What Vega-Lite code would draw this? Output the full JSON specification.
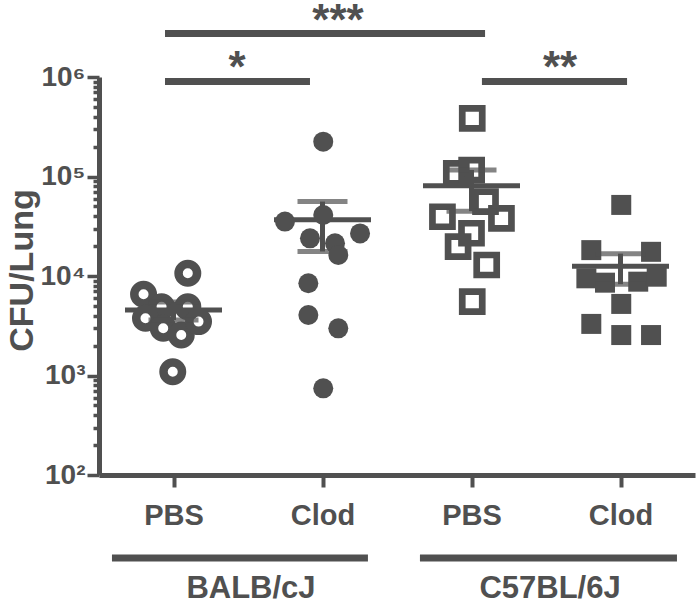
{
  "$schema": "https://vega.github.io/schema/vega-lite/v6.json",
  "width": 596,
  "height": 398,
  "autosize": {"type": "none"},
  "padding": {"left": 99, "top": 77, "right": 5, "bottom": 129},
  "background": "white",
  "config": {"view": {"stroke": null}, "font": "Liberation Sans"},
  "datasets": {
    "cfu": [
      {"strain": "BALB/cJ", "trt": "PBS", "grp": 1, "xpos": 1.096, "cfu": 10640},
      {"strain": "BALB/cJ", "trt": "PBS", "grp": 1, "xpos": 0.799, "cfu": 6550},
      {"strain": "BALB/cJ", "trt": "PBS", "grp": 1, "xpos": 0.920, "cfu": 4910},
      {"strain": "BALB/cJ", "trt": "PBS", "grp": 1, "xpos": 1.096, "cfu": 4910},
      {"strain": "BALB/cJ", "trt": "PBS", "grp": 1, "xpos": 0.812, "cfu": 3760},
      {"strain": "BALB/cJ", "trt": "PBS", "grp": 1, "xpos": 0.931, "cfu": 2980},
      {"strain": "BALB/cJ", "trt": "PBS", "grp": 1, "xpos": 1.052, "cfu": 2550},
      {"strain": "BALB/cJ", "trt": "PBS", "grp": 1, "xpos": 1.168, "cfu": 3480},
      {"strain": "BALB/cJ", "trt": "PBS", "grp": 1, "xpos": 0.995, "cfu": 1090},
      {"strain": "BALB/cJ", "trt": "Clod", "grp": 2, "xpos": 2.005, "cfu": 224000},
      {"strain": "BALB/cJ", "trt": "Clod", "grp": 2, "xpos": 1.748, "cfu": 35200},
      {"strain": "BALB/cJ", "trt": "Clod", "grp": 2, "xpos": 2.005, "cfu": 41000},
      {"strain": "BALB/cJ", "trt": "Clod", "grp": 2, "xpos": 2.252, "cfu": 26800},
      {"strain": "BALB/cJ", "trt": "Clod", "grp": 2, "xpos": 1.916, "cfu": 23900},
      {"strain": "BALB/cJ", "trt": "Clod", "grp": 2, "xpos": 2.084, "cfu": 21300},
      {"strain": "BALB/cJ", "trt": "Clod", "grp": 2, "xpos": 2.106, "cfu": 16260},
      {"strain": "BALB/cJ", "trt": "Clod", "grp": 2, "xpos": 1.905, "cfu": 8450},
      {"strain": "BALB/cJ", "trt": "Clod", "grp": 2, "xpos": 1.905, "cfu": 4060},
      {"strain": "BALB/cJ", "trt": "Clod", "grp": 2, "xpos": 2.106, "cfu": 2980},
      {"strain": "BALB/cJ", "trt": "Clod", "grp": 2, "xpos": 2.005, "cfu": 743},
      {"strain": "C57BL/6J", "trt": "PBS", "grp": 3, "xpos": 3.005, "cfu": 384000},
      {"strain": "C57BL/6J", "trt": "PBS", "grp": 3, "xpos": 2.898, "cfu": 107700},
      {"strain": "C57BL/6J", "trt": "PBS", "grp": 3, "xpos": 3.001, "cfu": 116000},
      {"strain": "C57BL/6J", "trt": "PBS", "grp": 3, "xpos": 3.094, "cfu": 55800},
      {"strain": "C57BL/6J", "trt": "PBS", "grp": 3, "xpos": 2.805, "cfu": 39400},
      {"strain": "C57BL/6J", "trt": "PBS", "grp": 3, "xpos": 3.201, "cfu": 38000},
      {"strain": "C57BL/6J", "trt": "PBS", "grp": 3, "xpos": 3.000, "cfu": 26900},
      {"strain": "C57BL/6J", "trt": "PBS", "grp": 3, "xpos": 2.910, "cfu": 19700},
      {"strain": "C57BL/6J", "trt": "PBS", "grp": 3, "xpos": 3.102, "cfu": 12900},
      {"strain": "C57BL/6J", "trt": "PBS", "grp": 3, "xpos": 3.005, "cfu": 5520},
      {"strain": "C57BL/6J", "trt": "Clod", "grp": 4, "xpos": 4.005, "cfu": 51800},
      {"strain": "C57BL/6J", "trt": "Clod", "grp": 4, "xpos": 3.804, "cfu": 18200},
      {"strain": "C57BL/6J", "trt": "Clod", "grp": 4, "xpos": 4.205, "cfu": 17500},
      {"strain": "C57BL/6J", "trt": "Clod", "grp": 4, "xpos": 3.771, "cfu": 9480},
      {"strain": "C57BL/6J", "trt": "Clod", "grp": 4, "xpos": 3.896, "cfu": 8570},
      {"strain": "C57BL/6J", "trt": "Clod", "grp": 4, "xpos": 4.119, "cfu": 8770},
      {"strain": "C57BL/6J", "trt": "Clod", "grp": 4, "xpos": 4.243, "cfu": 9840},
      {"strain": "C57BL/6J", "trt": "Clod", "grp": 4, "xpos": 4.005, "cfu": 5240},
      {"strain": "C57BL/6J", "trt": "Clod", "grp": 4, "xpos": 3.804, "cfu": 3300},
      {"strain": "C57BL/6J", "trt": "Clod", "grp": 4, "xpos": 4.005, "cfu": 2550},
      {"strain": "C57BL/6J", "trt": "Clod", "grp": 4, "xpos": 4.205, "cfu": 2550}
    ],
    "sig": [
      {"x1": 0.943, "x2": 3.091, "xc": 2.104, "stars": "***", "tier": "top"},
      {"x1": 0.943, "x2": 1.916, "xc": 1.426, "stars": "*", "tier": "low"},
      {"x1": 3.070, "x2": 4.044, "xc": 3.594, "stars": "**", "tier": "low"}
    ],
    "strains": [
      {"strain": "BALB/cJ", "x1": 0.587, "x2": 2.305, "xc": 1.52},
      {"strain": "C57BL/6J", "x1": 2.654, "x2": 4.379, "xc": 3.527}
    ]
  },
  "layer": [
    {
      "data": {"name": "cfu"},
      "transform": [{"filter": "datum.grp == 1"}],
      "mark": {"type": "point", "shape": "circle", "filled": false, "size": 342, "strokeWidth": 8.5, "color": "#505050", "opacity": 1},
      "encoding": {
        "x": {"field": "xpos", "type": "quantitative", "scale": {"domain": [0.5, 4.5], "nice": false, "zero": false},
          "axis": {"values": [1, 2, 3, 4], "labelExpr": "datum.value % 2 == 1 ? 'PBS' : 'Clod'", "title": null, "grid": false,
            "tickSize": 12, "tickWidth": 4, "tickColor": "#505050", "domainWidth": 5, "domainColor": "#505050",
            "labelFont": "Liberation Sans", "labelFontSize": 29, "labelFontWeight": "bold", "labelColor": "#505050", "labelPadding": 14, "labelFlush": false, "labelOverlap": false}},
        "y": {"field": "cfu", "type": "quantitative", "title": "CFU/Lung", "scale": {"type": "log", "domain": [100, 1000000], "nice": false},
          "axis": {"values": [100,200,300,400,500,600,700,800,900,1000,2000,3000,4000,5000,6000,7000,8000,9000,10000,20000,30000,40000,50000,60000,70000,80000,90000,100000,200000,300000,400000,500000,600000,700000,800000,900000,1000000],
            "labelExpr": "datum.value == 100 ? '10²' : datum.value == 1000 ? '10³' : datum.value == 10000 ? '10⁴' : datum.value == 100000 ? '10⁵' : datum.value == 1000000 ? '10⁶' : ''",
            "tickSize": {"condition": {"test": "indexof([100,1000,10000,100000,1000000], datum.value) >= 0", "value": 12}, "value": 6},
            "tickWidth": 3.5, "tickColor": "#505050", "domainWidth": 5, "domainColor": "#505050", "grid": false,
            "labelFont": "Liberation Sans", "labelFontSize": 28, "labelFontWeight": "bold", "labelColor": "#505050", "labelPadding": 2, "labelFlush": false, "labelOverlap": false,
            "title": "CFU/Lung", "titleFont": "Liberation Sans", "titleFontSize": 34, "titleFontWeight": "bold", "titleColor": "#505050",
            "titleX": -67, "titleY": 193, "titleAngle": -90, "titleAlign": "center", "titleBaseline": "alphabetic"}}
      }
    },
    {
      "data": {"name": "cfu"},
      "transform": [{"filter": "datum.grp == 2"}],
      "mark": {"type": "point", "shape": "circle", "filled": true, "size": 400, "color": "#505050", "opacity": 1},
      "encoding": {
        "x": {"field": "xpos", "type": "quantitative", "title": null},
        "y": {"field": "cfu", "type": "quantitative", "title": "CFU/Lung"}
      }
    },
    {
      "data": {"name": "cfu"},
      "transform": [{"filter": "datum.grp == 3"}],
      "mark": {"type": "point", "shape": "square", "filled": false, "size": 400, "strokeWidth": 6.7, "color": "#505050", "opacity": 1},
      "encoding": {
        "x": {"field": "xpos", "type": "quantitative", "title": null},
        "y": {"field": "cfu", "type": "quantitative", "title": "CFU/Lung"}
      }
    },
    {
      "data": {"name": "cfu"},
      "transform": [{"filter": "datum.grp == 4"}],
      "mark": {"type": "point", "shape": "square", "filled": true, "size": 400, "color": "#505050", "opacity": 1},
      "encoding": {
        "x": {"field": "xpos", "type": "quantitative", "title": null},
        "y": {"field": "cfu", "type": "quantitative", "title": "CFU/Lung"}
      }
    },
    {
      "data": {"name": "cfu"},
      "mark": {"type": "errorbar", "extent": "stderr", "orient": "vertical", "ticks": true, "size": 50, "thickness": 5, "color": "#505050"},
      "encoding": {
        "x": {"field": "grp", "type": "quantitative", "title": null},
        "y": {"field": "cfu", "type": "quantitative", "title": "CFU/Lung"}
      }
    },
    {
      "data": {"name": "cfu"},
      "mark": {"type": "tick", "orient": "horizontal", "size": 97, "thickness": 5, "color": "#505050", "opacity": 1},
      "encoding": {
        "x": {"field": "grp", "type": "quantitative", "title": null},
        "y": {"aggregate": "mean", "field": "cfu", "type": "quantitative", "title": "CFU/Lung"}
      }
    },
    {
      "data": {"name": "sig"},
      "transform": [{"filter": "datum.tier == 'top'"}],
      "mark": {"type": "rule", "strokeWidth": 7, "color": "#505050", "strokeCap": "butt"},
      "encoding": {
        "x": {"field": "x1", "type": "quantitative", "title": null},
        "x2": {"field": "x2"},
        "y": {"datum": 2735000, "type": "quantitative", "title": "CFU/Lung"}
      }
    },
    {
      "data": {"name": "sig"},
      "transform": [{"filter": "datum.tier == 'low'"}],
      "mark": {"type": "rule", "strokeWidth": 7, "color": "#505050", "strokeCap": "butt"},
      "encoding": {
        "x": {"field": "x1", "type": "quantitative", "title": null},
        "x2": {"field": "x2"},
        "y": {"datum": 901000, "type": "quantitative", "title": "CFU/Lung"}
      }
    },
    {
      "data": {"name": "sig"},
      "transform": [{"filter": "datum.tier == 'top'"}],
      "mark": {"type": "text", "font": "Liberation Sans", "fontSize": 44, "fontWeight": "bold", "color": "#505050", "align": "center", "baseline": "alphabetic", "dy": 1},
      "encoding": {
        "x": {"field": "xc", "type": "quantitative", "title": null},
        "y": {"datum": 2735000, "type": "quantitative", "title": "CFU/Lung"},
        "text": {"field": "stars"}
      }
    },
    {
      "data": {"name": "sig"},
      "transform": [{"filter": "datum.tier == 'low'"}],
      "mark": {"type": "text", "font": "Liberation Sans", "fontSize": 44, "fontWeight": "bold", "color": "#505050", "align": "center", "baseline": "alphabetic", "dy": 0},
      "encoding": {
        "x": {"field": "xc", "type": "quantitative", "title": null},
        "y": {"datum": 901000, "type": "quantitative", "title": "CFU/Lung"},
        "text": {"field": "stars"}
      }
    },
    {
      "data": {"name": "strains"},
      "mark": {"type": "rule", "strokeWidth": 7, "color": "#505050", "strokeCap": "butt"},
      "encoding": {
        "x": {"field": "x1", "type": "quantitative", "title": null},
        "x2": {"field": "x2"},
        "y": {"datum": 14.65, "type": "quantitative", "title": "CFU/Lung"}
      }
    },
    {
      "data": {"name": "strains"},
      "mark": {"type": "text", "font": "Liberation Sans", "fontSize": 31, "fontWeight": "bold", "color": "#505050", "align": "center", "baseline": "alphabetic"},
      "encoding": {
        "x": {"field": "xc", "type": "quantitative", "title": null},
        "y": {"datum": 5.8, "type": "quantitative", "title": "CFU/Lung"},
        "text": {"field": "strain"}
      }
    }
  ]
}
